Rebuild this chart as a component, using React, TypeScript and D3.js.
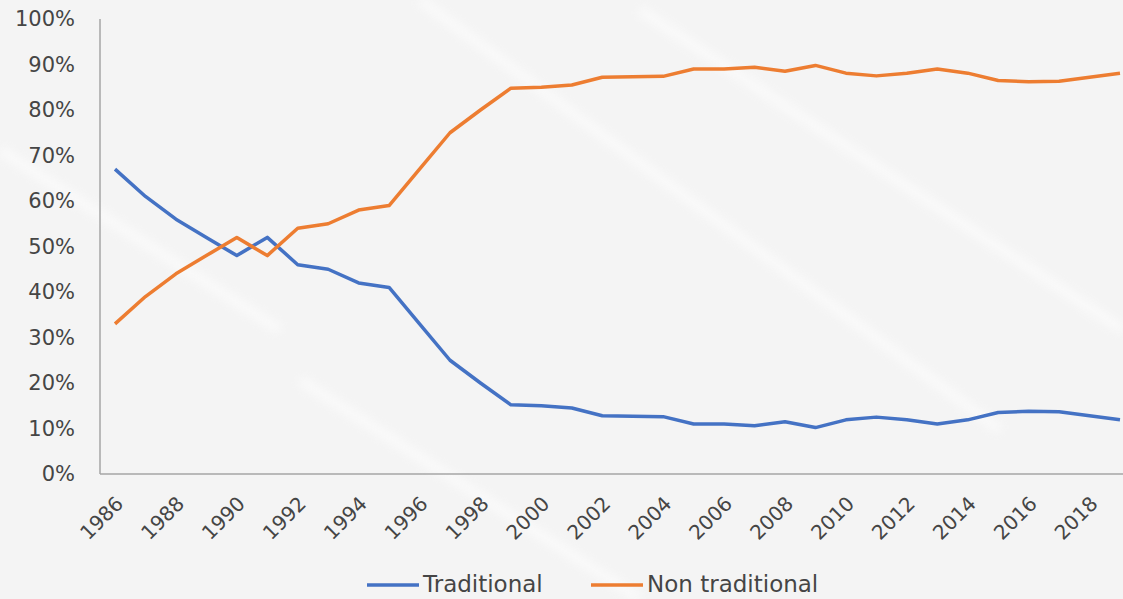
import { useEffect, useRef } from "react";
import * as d3 from "d3";

const years = d3.range(1986, 2020);

const traditional = [
	67, 61, 56, 52, 48, 52, 46, 45, 42, 41,
	33, 25, 20, 15.2, 15, 14.5, 12.8, 12.7, 12.6, 11,
	11, 10.6, 11.5, 10.2, 11.9, 12.5, 11.9, 11, 11.9, 13.5,
	13.8, 13.7, 12.8, 11.9,
];

const nonTraditional = [
	33, 39, 44, 48, 52, 48, 54, 55, 58, 59,
	67, 75, 80, 84.8, 85, 85.5, 87.2, 87.3, 87.4, 89,
	89, 89.4, 88.5, 89.8, 88.1, 87.5, 88.1, 89, 88.1, 86.5,
	86.2, 86.3, 87.2, 88.1,
];

const yTicks = d3.range(0, 101, 10);
const xTicks = years.filter(y => y % 2 === 0);

const SERIES = [
	{ name: "Traditional", values: traditional, color: "#4472C4" },
	{ name: "Non traditional", values: nonTraditional, color: "#ED7D31" },
];

const W = 1123;
const H = 599;
const FONT = "'DejaVu Sans', sans-serif";

export default function App() {
	const ref = useRef<SVGSVGElement>(null);

	useEffect(() => {
		const svg = d3.select(ref.current);
		svg.selectAll("*").remove();

		// background with faint light streaks
		svg.append("rect").attr("width", W).attr("height", H).attr("fill", "#f4f4f4");
		const defs = svg.append("defs");
		defs.append("filter").attr("id", "blur")
			.attr("filterUnits", "userSpaceOnUse")
			.attr("x", 0).attr("y", 0).attr("width", W).attr("height", H)
			.append("feGaussianBlur").attr("stdDeviation", 5);
		const streaks = [
			[300, 380, 640, 599],
			[420, 0, 1000, 430],
			[640, 10, 1123, 330],
			[0, 150, 280, 330],
		];
		streaks.forEach(s => {
			svg.append("line")
				.attr("x1", s[0]).attr("y1", s[1]).attr("x2", s[2]).attr("y2", s[3])
				.attr("stroke", "#ffffff").attr("stroke-width", 10)
				.attr("opacity", 0.55).attr("filter", "url(#blur)");
		});

		const x = d3.scalePoint<number>().domain(years).range([115, 1120]);
		const y = d3.scaleLinear().domain([0, 100]).range([474, 19]);

		// Y axis
		const yAxis = svg.append("g")
			.attr("transform", "translate(100,0)")
			.call(d3.axisLeft(y).tickValues(yTicks).tickSize(0).tickPadding(25).tickFormat(d => `${d}%`));
		yAxis.select(".domain").remove();
		yAxis.selectAll("text")
			.attr("font-family", FONT)
			.attr("font-size", 21)
			.attr("fill", "#454545");

		svg.append("line")
			.attr("x1", 100).attr("x2", 100)
			.attr("y1", y(100)).attr("y2", y(0))
			.attr("stroke", "#a6a6a6").attr("stroke-width", 1.5);
		svg.append("line")
			.attr("x1", 100).attr("x2", W)
			.attr("y1", y(0)).attr("y2", y(0))
			.attr("stroke", "#a6a6a6").attr("stroke-width", 1.5);

		// X axis labels
		const xAxis = svg.append("g")
			.attr("transform", `translate(0,${y(0)})`)
			.call(d3.axisBottom(x).tickValues(xTicks).tickSize(0).tickFormat(d => String(d)));
		xAxis.select(".domain").remove();
		xAxis.selectAll<SVGTextElement, number>("text")
			.attr("font-family", FONT)
			.attr("font-size", 20)
			.attr("fill", "#454545")
			.attr("text-anchor", "end")
			.attr("dy", null)
			.attr("y", 0)
			.attr("transform", "translate(9,31) rotate(-45)");

		// Lines
		const line = d3.line<number>()
			.x((_, i) => x(years[i])!)
			.y(d => y(d));

		SERIES.forEach(s => {
			svg.append("path")
				.datum(s.values)
				.attr("d", line)
				.attr("fill", "none")
				.attr("stroke", s.color)
				.attr("stroke-width", 3.5)
				.attr("stroke-linejoin", "round");
		});

		// Legend
		const legendPos = [367, 591];
		SERIES.forEach((s, i) => {
			const lx = legendPos[i];
			svg.append("line")
				.attr("x1", lx).attr("x2", lx + 52)
				.attr("y1", 585).attr("y2", 585)
				.attr("stroke", s.color).attr("stroke-width", 3.5);
			svg.append("text")
				.attr("x", lx + 56)
				.attr("y", 592)
				.attr("font-family", FONT)
				.attr("font-size", 23)
				.attr("fill", "#454545")
				.text(s.name);
		});
	}, []);

	return (
		<svg
			ref={ref}
			width={W}
			height={H}
			style={{ position: "absolute", left: 0, top: 0, display: "block" }}
		/>
	);
}
